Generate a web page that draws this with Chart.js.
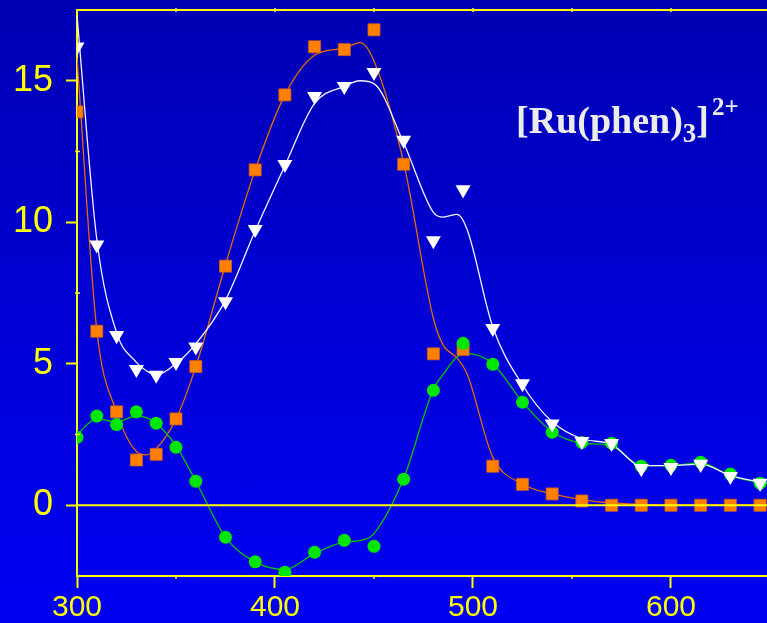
<!DOCTYPE html>
<html>
<head>
<meta charset="utf-8">
<script src="https://cdn.jsdelivr.net/npm/chart.js@4.4.1/dist/chart.umd.min.js"></script>
<style>
  html, body { margin: 0; padding: 0; }
  #wrap {
    position: relative;
    width: 767px;
    height: 623px;
    overflow: hidden;
    background: linear-gradient(to bottom, #0000b4, #0000f4);
  }
  #lbl {
    position: absolute;
    left: 516px;
    top: 101px;
    font: bold 38px "Liberation Serif", "Times New Roman", serif;
    line-height: 1;
    color: #ececec;
    white-space: nowrap;
  }
  #lbl .sub { font-size: 27px; position: relative; top: 9px; }
  #lbl .sup { font-size: 25px; position: relative; top: -18px; margin-left: 3px; }
</style>
</head>
<body>
<div id="wrap">
  <canvas id="spec" width="767" height="623"></canvas>
  <div id="lbl">[Ru(phen)<span class="sub">3</span>]<span class="sup">2+</span></div>
</div>
<script>
// measured points (wavelength, nm)
var wl = [300, 310, 320, 330, 340, 350, 360, 375, 390, 405, 420, 435, 450,
          465, 480, 495, 510, 525, 540, 555, 570, 585, 600, 615, 630, 645];

var orangePts = [13.9, 6.15, 3.3, 1.6, 1.8, 3.05, 4.9, 8.45, 11.85, 14.5, 16.2, 16.1, 16.8,
                 12.05, 5.35, 5.5, 1.38, 0.74, 0.4, 0.15, 0, 0, 0, 0, 0, 0];
var whitePts  = [16.2, 9.2, 6.0, 4.8, 4.6, 5.05, 5.6, 7.2, 9.75, 12.05, 14.45, 14.8, 15.3,
                 12.9, 9.35, 11.15, 6.25, 4.3, 2.88, 2.26, 2.19, 1.3, 1.34, 1.45, 1.02, 0.78];
var greenPts  = [2.4, 3.15, 2.85, 3.3, 2.9, 2.05, 0.85, -1.13, -2.0, -2.37, -1.66, -1.24, -1.45,
                 0.92, 4.06, 5.72, 4.98, 3.64, 2.58, 2.22, 2.19, 1.38, 1.41, 1.52, 1.1, 0.78];

// fitted curves
var fitWl = [300, 310, 320, 330, 335, 340, 350, 360, 375, 390, 405, 420, 435, 443, 450,
             465, 480, 485, 492, 497, 510, 525, 540, 555, 570, 585, 600, 615, 630, 645, 650];

var orangeFit = [15.8, 6.2, 3.3, 1.9, 1.78, 2.0, 3.05, 4.9, 8.5, 11.85, 14.5, 15.9, 16.15, 16.35, 15.7,
                 12.1, 6.6, 5.65, 5.2, 4.65, 1.7, 0.75, 0.4, 0.2, 0.08, 0.03, 0, 0, 0, 0, 0];
var whiteFit  = [17.3, 9.4, 6.1, 5.05, 4.75, 4.6, 5.0, 5.7, 7.25, 9.7, 12.0, 14.2, 14.8, 15.0, 14.9,
                 12.8, 10.35, 10.18, 10.28, 9.75, 6.3, 4.25, 2.95, 2.35, 2.15, 1.4, 1.4, 1.45, 1.05, 0.82, 0.75];
var greenFit  = [2.5, 3.05, 2.95, 3.15, 3.1, 2.9, 2.1, 0.85, -1.13, -2.0, -2.27, -1.7, -1.3, -1.25, -1.0,
                 0.95, 4.1, 4.63, 5.25, 5.37, 5.0, 3.65, 2.6, 2.2, 2.1, 1.4, 1.4, 1.5, 1.05, 0.8, 0.75];

// axis ticks
var xTicks = [300, 400, 500, 600];
var yTicks = [0, 5, 10, 15];
var xMinor = [350, 450, 550];
var xTopTicks = [350, 400, 450, 500, 550, 600];
var yMinor = [2.5, 7.5, 12.5];

var YELLOW = '#ffff00';

function pairs(xs, ys) {
    return xs.map(function (x, i) { return { x: x, y: ys[i] }; });
}

// zero line, top frame and small minor ticks
var decor = {
    id: 'decor',
    afterDatasetsDraw: function (chart) {
        var ctx = chart.ctx, a = chart.chartArea;
        var xs = chart.scales.x, ys = chart.scales.y;
        function seg(x1, y1, x2, y2) {
            ctx.beginPath(); ctx.moveTo(x1, y1); ctx.lineTo(x2, y2); ctx.stroke();
        }
        ctx.save();
        ctx.strokeStyle = YELLOW;
        ctx.lineWidth = 2;
        var y0 = ys.getPixelForValue(0);
        seg(a.left, y0, a.right, y0);
        seg(a.left - 1, a.top, a.right, a.top);
        ctx.lineWidth = 1.5;
        xMinor.forEach(function (v) {
            var p = xs.getPixelForValue(v);
            seg(p, a.bottom, p, a.bottom + 3);
        });
        xTopTicks.forEach(function (v) {
            var p = xs.getPixelForValue(v);
            seg(p, a.top - 2, p, a.top + 2);
        });
        yMinor.forEach(function (v) {
            var p = ys.getPixelForValue(v);
            seg(a.left - 2, p, a.left + 3, p);
        });
        ctx.restore();
    }
};

var ctx = document.getElementById('spec').getContext('2d');

new Chart(ctx, {
    type: 'scatter',
    data: {
        datasets: [{
            data: pairs(wl, whitePts),
            pointStyle: 'triangle',
            rotation: 180,
            pointRadius: 8.7,
            backgroundColor: '#ffffff',
            borderColor: '#ffffff',
            borderWidth: 0
        }, {
            data: pairs(wl, greenPts),
            pointStyle: 'circle',
            pointRadius: 6.5,
            backgroundColor: '#00e600',
            borderColor: '#00e600',
            borderWidth: 0
        }, {
            data: pairs(wl, orangePts),
            pointStyle: 'rect',
            pointRadius: 8.5,
            backgroundColor: '#ff8000',
            borderColor: '#d0601a',
            borderWidth: 0.8
        }, {
            type: 'line',
            data: pairs(fitWl, whiteFit),
            borderColor: '#f4f4ff',
            borderWidth: 1.3,
            pointRadius: 0,
            fill: false,
            cubicInterpolationMode: 'monotone'
        }, {
            type: 'line',
            data: pairs(fitWl, greenFit),
            borderColor: '#00c800',
            borderWidth: 1.3,
            pointRadius: 0,
            fill: false,
            cubicInterpolationMode: 'monotone'
        }, {
            type: 'line',
            data: pairs(fitWl, orangeFit),
            borderColor: '#e86c00',
            borderWidth: 1.3,
            pointRadius: 0,
            fill: false,
            cubicInterpolationMode: 'monotone'
        }]
    },
    options: {
        responsive: false,
        animation: false,
        layout: {
            autoPadding: false,
            padding: { top: 10, right: 0, left: 0, bottom: 0 }
        },
        plugins: {
            legend: { display: false },
            tooltip: { enabled: false }
        },
        scales: {
            x: {
                type: 'linear',
                position: 'bottom',
                min: 300,
                max: 648.5,
                afterBuildTicks: function (scale) {
                    scale.ticks = xTicks.map(function (v) { return { value: v }; });
                },
                afterFit: function (scale) {
                    scale.height = 47;
                    scale.paddingRight = 0;
                    scale.paddingLeft = 0;
                },
                border: { display: true, color: YELLOW, width: 2 },
                grid: {
                    drawOnChartArea: false,
                    drawTicks: true,
                    tickLength: 12,
                    tickColor: YELLOW,
                    tickWidth: 2,
                    color: YELLOW
                },
                ticks: {
                    autoSkip: false,
                    maxRotation: 0,
                    padding: 2,
                    color: YELLOW,
                    font: { family: 'Liberation Sans', size: 30 }
                }
            },
            y: {
                min: -2.5,
                max: 17.5,
                afterBuildTicks: function (scale) {
                    scale.ticks = yTicks.map(function (v) { return { value: v }; });
                },
                afterFit: function (scale) {
                    scale.width = 77;
                    scale.paddingTop = 0;
                    scale.paddingBottom = 0;
                },
                border: { display: true, color: YELLOW, width: 2 },
                grid: {
                    drawOnChartArea: false,
                    drawTicks: true,
                    tickLength: 11,
                    tickColor: YELLOW,
                    tickWidth: 2,
                    color: YELLOW
                },
                ticks: {
                    padding: 13,
                    color: YELLOW,
                    font: { family: 'Liberation Sans', size: 36 }
                }
            }
        }
    },
    plugins: [decor]
});
</script>
</body>
</html>
